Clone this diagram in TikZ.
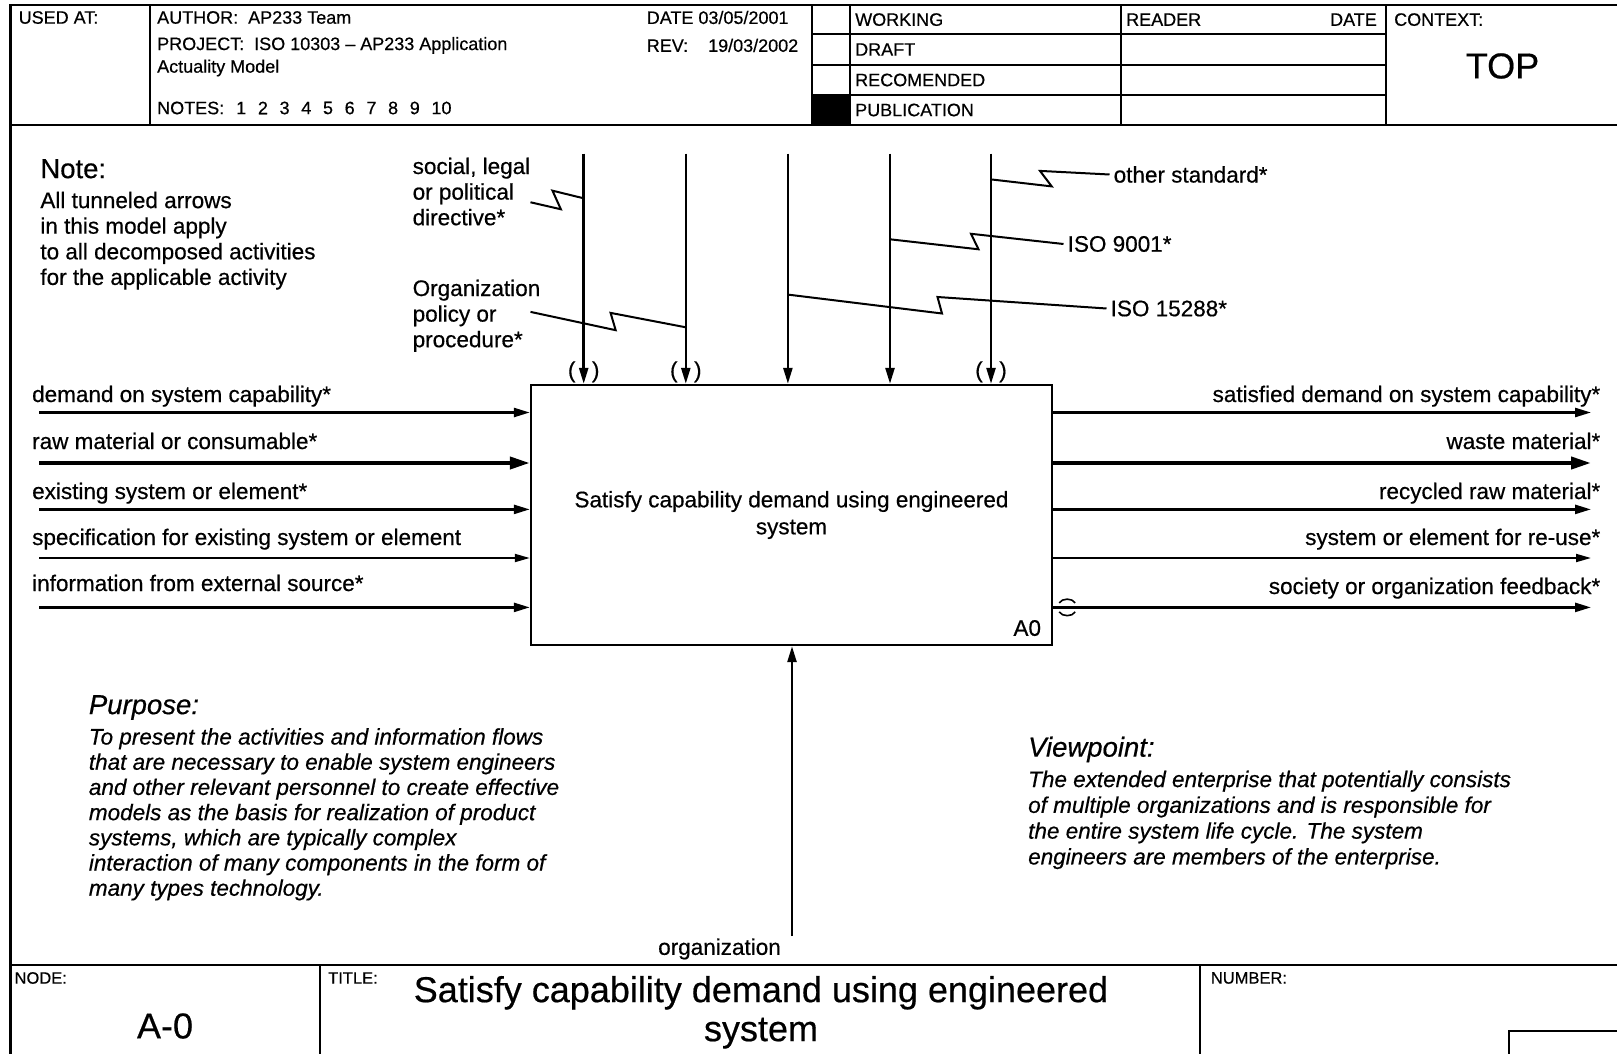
\documentclass[tikz,border=0pt]{standalone}
\usepackage{fontspec}
\setmainfont{Liberation Sans}[FakeBold=0.5]
\usetikzlibrary{arrows.meta,calc,positioning}

\begin{document}
\begin{tikzpicture}[x=1pt,y=-1pt,
	frame/.style={line width=2.4pt},
	rule/.style={line width=2pt},
	flow/.style={line width=2.5pt,-{Triangle[length=16pt,width=9pt]}},
	heavyflow/.style={line width=4pt,-{Triangle[length=20pt,width=12pt]}},
	lightflow/.style={line width=1.9pt,-{Triangle[length=15pt,width=8pt]}},
	zig/.style={line width=2pt},
	tunnel/.style={line width=1.6pt},
	hdr/.style={font=\fontsize{18}{21}\selectfont,inner sep=0pt,anchor=west},
	lbl/.style={font=\fontsize{22.5}{25.6}\selectfont,inner sep=0pt},
	bigtxt/.style={font=\fontsize{36}{39}\selectfont,inner sep=0pt},
	head/.style={font=\fontsize{27.5}{31}\selectfont,inner sep=0pt,anchor=north west},
	tag/.style={font=\fontsize{16.5}{19}\selectfont,inner sep=0pt,anchor=west}]

	\clip (0,0) rectangle (1617,1054);
	\useasboundingbox (0,0) rectangle (1617,1054);

	% Frame
	\draw[frame] (1640,5.2) -- (10.3,5.2) -- (10.3,1070);

	% Header
	\draw[frame] (10.3,125) -- (1640,125);
	\foreach \x in {149.5,811.6,849.8,1121,1386} {
		\draw[rule] (\x,5.2) -- (\x,125);
	}
	\foreach \y in {34,65,95} {
		\draw[rule] (811.6,\y) -- (1386,\y);
	}
	\fill (811.6,95) rectangle (849.8,125);
	\node[hdr] (usedat) at (18.5,17.5) {USED AT:};
	\node[hdr] (author) at (157,17.5) {AUTHOR:\ \ AP233 Team};
	\node[hdr] (project) at (157,45.4) {PROJECT:\ \ ISO 10303 – AP233 Application};
	\node[hdr] (actuality) at (157,68) {Actuality Model};
	\node[hdr] (notes) at (157,108) {NOTES:};
	\foreach \n in {1,...,10} {
		\node[hdr] (note\n) at ({236+21.7*(\n-1)},108) {\n};
	}
	\node[hdr] (date) at (646.6,17.5) {DATE 03/05/2001};
	\node[hdr] (rev) at (646.6,45.4) {REV:\hspace{20pt}19/03/2002};
	\foreach \y/\txt in {19.6/WORKING,49.5/DRAFT,80/RECOMENDED,110/PUBLICATION} {
		\node[hdr] (st\txt) at (855,\y) {\txt};
	}
	\node[hdr] (reader) at (1126,19.6) {READER};
	\node[hdr,anchor=east] (rdate) at (1377,19.6) {DATE};
	\node[hdr] (context) at (1394,19.6) {CONTEXT:};
	\node[bigtxt] (top) at (1502.5,66) {TOP};

	% Activity box
	\node[draw,line width=2.4pt,minimum width=521pt,minimum height=260pt,
		lbl,inner sep=0pt,align=center,font=\fontsize{22.5}{27}\selectfont]
		(box) at (791.5,515) {Satisfy capability demand using engineered\\system};
	\node[lbl,anchor=south east] (boxid) at ([xshift=-12pt,yshift=10pt]box.south east) {A0};

	% Inputs
	\foreach \i/\y/\ly/\w/\txt in {
		1/412.5/402/flow/demand on system capability*,
		2/463/449/heavyflow/raw material or consumable*,
		3/509.4/499/flow/existing system or element*,
		4/558/545/lightflow/specification for existing system or element,
		5/607.4/591/flow/information from external source*} {
		\coordinate (in\i) at (39,\y);
		\draw[\w] (in\i) -- (in\i -| box.west);
		\node[lbl,anchor=base west] (inlbl\i) at (32,\ly) {\txt};
	}

	% Outputs
	\foreach \i/\y/\ly/\w/\txt in {
		1/412.5/402/flow/satisfied demand on system capability*,
		2/463/449/heavyflow/waste material*,
		3/509.4/499/flow/recycled raw material*,
		4/558/545/lightflow/system or element for re-use*,
		5/607.4/594/flow/society or organization feedback*} {
		\coordinate (out\i) at (1591,\y);
		\draw[\w] (out\i -| box.east) -- (out\i);
		\node[lbl,anchor=base east] (outlbl\i) at (1600.5,\ly) {\txt};
	}
	\draw[tunnel] ($(out5 -| box.east)+(6,-4.5)$) .. controls +(3,-5) and +(-3,-5) .. +(16,0);
	\draw[tunnel] ($(out5 -| box.east)+(6,4.5)$) .. controls +(3,5) and +(-3,5) .. +(16,0);

	% Controls
	\foreach \i/\x in {1/583.7,2/685.8,3/787.9,4/890,5/991} {
		\coordinate (ctl\i) at (\x,153.6);
		\draw[flow] (ctl\i) -- (ctl\i |- box.north);
	}
	\foreach \i in {1,2,5} {
		\node[lbl] (tl\i) at ($(ctl\i |- box.north)+(-12,-12)$) {(};
		\node[lbl] (tr\i) at ($(ctl\i |- box.north)+(12,-12)$) {)};
	}
	\node[lbl,align=left,anchor=north west] (soclbl) at (412.5,157.5) {social, legal\\or political\\directive*};
	\node[lbl,align=left,anchor=north west] (orglbl) at (412.5,279.5) {Organization\\policy or\\procedure*};
	\node[lbl,anchor=west,inner sep=4pt] (std) at (1109.5,174.5) {other standard*};
	\node[lbl,anchor=west,inner sep=4pt] (iso9) at (1063.5,244) {ISO 9001*};
	\node[lbl,anchor=west,inner sep=4pt] (iso15) at (1106.5,308.5) {ISO 15288*};
	\draw[zig] ($(soclbl.east)+(0,10.7)$) -- ++(30.4,7) -- ++(-8.4,-18.6) -- ($(ctl1)+(0,44.7)$);
	\draw[zig] ($(orglbl.east)+(-10,-3.9)$) -- ++(85.2,18.3) -- ++(-5.1,-17.3) -- ($(ctl2)+(0,173.7)$);
	\draw[zig] ($(ctl3)+(0,141)$) -- ++(154.1,18.9) -- ++(-4.5,-16.5) -- (iso15.west);
	\draw[zig] ($(ctl4)+(0,85.7)$) -- ++(88.5,10) -- ++(-7.5,-15.5) -- (iso9.west);
	\draw[zig] ($(ctl5)+(0,25.8)$) -- ++(60.7,7) -- ++(-11.7,-15.5) -- (std.west);

	% Mechanism
	\coordinate (mech) at (792,936);
	\draw[flow] (mech) -- (mech |- box.south);
	\node[lbl,anchor=east] (mechlbl) at ([xshift=-11pt,yshift=-13pt]mech) {organization};

	% Note, purpose and viewpoint
	\node[head] (notehead) at (40.2,159) {Note:};
	\node[lbl,align=left,anchor=north west] (notebody) at ([yshift=-13pt]notehead.south west)
		{All tunneled arrows\\in this model apply\\to all decomposed activities\\for the applicable activity};
	\node[head,font=\fontsize{27.5}{31}\selectfont\itshape] (purphead) at (88.7,695) {Purpose:};
	\node[lbl,align=left,anchor=north west,font=\fontsize{22.5}{25.2}\selectfont\itshape] (purpbody)
		at ([yshift=-8pt]purphead.south west)
		{To present the activities and information flows\\that are necessary to enable system engineers\\and other relevant personnel to create effective\\models as the basis for realization of product\\systems, which are typically complex\\interaction of many components in the form of\\many types technology.};
	\node[head,font=\fontsize{27.5}{31}\selectfont\itshape] (viewhead) at (1028,736.5) {Viewpoint:};
	\node[lbl,align=left,anchor=north west,font=\fontsize{22.5}{25.8}\selectfont\itshape] (viewbody)
		at ([yshift=-8pt]viewhead.south west)
		{The extended enterprise that potentially consists\\of multiple organizations and is responsible for\\the entire system life cycle. The system\\engineers are members of the enterprise.};

	% Footer
	\draw[frame] (10.3,965) -- (1640,965);
	\foreach \x in {319.7,1200} {
		\draw[rule] (\x,965) -- (\x,1070);
	}
	\draw[rule] (1640,1031) -- (1509,1031) -- (1509,1070);
	\node[tag] (nodetag) at (14.4,978) {NODE:};
	\node[bigtxt] (nodeid) at (165,1026) {A-0};
	\node[tag] (titletag) at (328,978) {TITLE:};
	\node[bigtxt,align=center] (title) at (761,1012.3) {Satisfy capability demand using engineered\\system};
	\node[tag] (numtag) at (1210.7,978) {NUMBER:};
\end{tikzpicture}
\end{document}
